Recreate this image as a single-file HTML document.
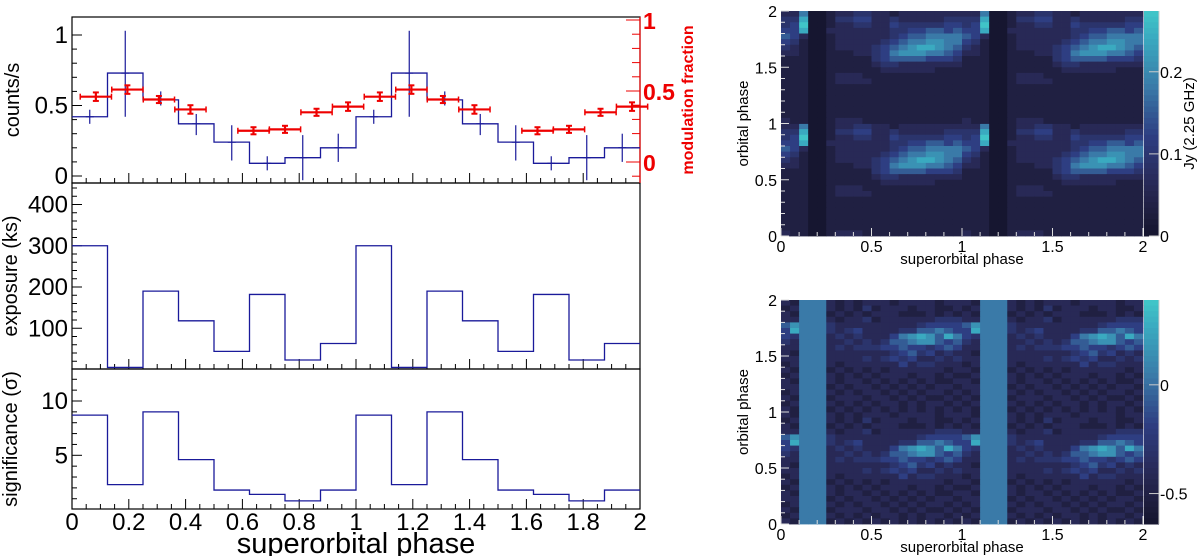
<!DOCTYPE html>
<html><head><meta charset="utf-8"><style>
body{margin:0;background:#fff}
svg{display:block;font-family:"Liberation Sans",Arial,sans-serif}
</style></head><body>
<svg id="s" width="1200" height="556" viewBox="0 0 1200 556" xmlns="http://www.w3.org/2000/svg"></svg>
<script>
// ---- data ----
const binEdges = [0,0.125,0.25,0.375,0.5,0.625,0.75,0.875,1,1.125,1.25,1.375,1.5,1.625,1.75,1.875,2];
const countsVals = [0.42,0.73,0.54,0.37,0.24,0.09,0.13,0.20,0.42,0.73,0.54,0.37,0.24,0.09,0.13,0.20];
const countsErrLo = [0.37,0.42,0.50,0.29,0.11,0.04,-0.03,0.10,0.37,0.42,0.50,0.29,0.11,0.04,-0.03,0.10];
const countsErrHi = [0.47,1.03,0.60,0.44,0.36,0.14,0.29,0.30,0.47,1.03,0.60,0.44,0.36,0.14,0.29,0.30];
const modPhase = [0.084,0.195,0.306,0.417,0.639,0.75,0.861,0.972,1.084,1.195,1.306,1.417,1.639,1.75,1.861,1.972];
const modVals = [0.46,0.51,0.44,0.37,0.22,0.23,0.35,0.39,0.46,0.51,0.44,0.37,0.22,0.23,0.35,0.39];
const modErr = [0.03,0.03,0.025,0.03,0.025,0.025,0.025,0.03,0.03,0.03,0.025,0.03,0.025,0.025,0.025,0.03];
const modHalfW = 0.055;
const exposureVals = [300,5,190,118,44,182,23,63,300,5,190,118,44,182,23,63];
const signifVals = [8.7,2.3,9.0,4.6,1.8,1.4,0.8,1.8,8.7,2.3,9.0,4.6,1.8,1.4,0.8,1.8];
const xTickLabels = ["0","0.2","0.4","0.6","0.8","1","1.2","1.4","1.6","1.8","2"];
const radioRows = ["22600122332212222222","33800133442232222233","34900122332243333344","44800222222233445545","54200122222234556666","43100122222345667766","32100122223456788765","22100111223467776654","11100111113455554443","11100111112332222222","11100111111222222111","11100122211111111111","11100122221111111111","11100111111111111111","11100111111111111111","11100111111111111111","11100111111111111111","11100111111111111111","11100111111111111111","21100122211111111111"];
const residRows = ["21666212122212222122","12666212131222122112","21666121212221112121","22666212231222222333","57666322222222234444","48666323422223355654","43666232322246787586","32666223232355677545","22666232333445443454","21666222222234534232","22666222232343422323","12666212222224233222","21666121212122222212","12666212121222122121","21666212212121212112","22666121221212121221","12666212122121212212","21666122212212121121","12666212121221212212","21666121212121212121"];
const cbTopTicks = [0,0.1,0.2];
const cbBotTicks = [-0.5,0];

const NS="http://www.w3.org/2000/svg";
const svg=document.getElementById('s');
function mk(tag,attrs,parent){const e=document.createElementNS(NS,tag);for(const k in attrs)e.setAttribute(k,attrs[k]);(parent||svg).appendChild(e);return e;}
function txt(str,attrs,parent){const e=mk('text',attrs,parent);e.textContent=str;return e;}

const X=p=>72+p*284;
const Yc=v=>176-v*141;
const Yr=v=>162-v*142;
const Ye=v=>369.5-v*0.4125;
const Ys=v=>509.6-v*10.86;
const L=72,R=640,T1=17,B1=183,B2=369,B3=509;

function stepPath(vals,Y){let d=`M${X(binEdges[0])},${Y(vals[0])}`;for(let i=0;i<vals.length;i++){d+=` L${X(binEdges[i+1])},${Y(vals[i])}`;if(i+1<vals.length)d+=` L${X(binEdges[i+1])},${Y(vals[i+1])}`;}return d;}

[[T1,B1,'counts-panel'],[B1,B2,'exposure-panel'],[B2,B3,'significance-panel']].forEach(([t,b,n])=>{
  const r=mk('rect',{x:L,y:t,width:R-L,height:b-t,fill:'none',stroke:'#000','stroke-width':1.2});
  
});
[B1,B2,B3].forEach(b=>{for(let i=0;i<=40;i++){const p=i*0.05;const maj=i%4===0;mk('line',{x1:X(p),x2:X(p),y1:b,y2:b-(maj?10:5),stroke:'#000','stroke-width':1});}});
function yTicks(Y,minV,maxV,step,majEvery,top,bot){for(let k=0;;k++){const v=minV+k*step;if(v>maxV+1e-9)break;const y=Y(v);if(y<top-0.5||y>bot+0.5)continue;const maj=(Math.round(v/step)%majEvery)===0;mk('line',{x1:L,x2:L+(maj?10:5),y1:y,y2:y,stroke:'#000','stroke-width':1});}}
yTicks(Yc,0,1.05,0.1,5,T1,B1);
yTicks(Ye,20,440,20,5,B1,B2);
yTicks(Ys,1,12.9,1,5,B2,B3);
[[Yc,["0","0.5","1"],[0,0.5,1]],[Ye,["100","200","300","400"],[100,200,300,400]],[Ys,["5","10"],[5,10]]].forEach(([Y,labs,vals])=>{
  labs.forEach((l,i)=>{const t=txt(l,{x:L-4,y:Y(vals[i])+8,'font-size':24,'text-anchor':'end',fill:'#000'});});
});
xTickLabels.forEach((l,i)=>{const t=txt(l,{x:X(i*0.2),y:530,'font-size':24,'text-anchor':'middle'});});
let t=txt('superorbital phase',{x:356,y:553,'font-size':29,'text-anchor':'middle'});
t=txt('counts/s',{x:0,y:0,'font-size':20,'text-anchor':'middle',transform:`translate(19,${(T1+B1)/2}) rotate(-90)`});
t=txt('exposure (ks)',{x:0,y:0,'font-size':20,'text-anchor':'middle',transform:`translate(17,${(B1+B2)/2}) rotate(-90)`});
t=txt('significance (σ)',{x:0,y:0,'font-size':20,'text-anchor':'middle',transform:`translate(17,${(B2+B3)/2}) rotate(-90)`});

mk('line',{x1:R,x2:R,y1:T1,y2:B1,stroke:'#e00','stroke-width':1.2});
for(let k=-1;k<=10;k++){const v=k*0.1;const y=Yr(v);if(y<T1||y>B1)continue;const maj=k%5===0;mk('line',{x1:R,x2:R-(maj?14:8),y1:y,y2:y,stroke:'#e00','stroke-width':1});}
[[0,"0"],[0.5,"0.5"],[1,"1"]].forEach(([v,l])=>{const t=txt(l,{x:R+3,y:Yr(v)+9,'font-size':23,'font-weight':'bold',fill:'#e00'});});
t=txt('modulation fraction',{x:0,y:0,'font-size':16,'font-weight':'bold',fill:'#e00','text-anchor':'middle',transform:`translate(693,${(T1+B1)/2}) rotate(-90)`});

const blue='#1a1a9a';
let p=mk('path',{d:stepPath(countsVals,Yc),fill:'none',stroke:blue,'stroke-width':1.3});
countsVals.forEach((v,i)=>{const c=(binEdges[i]+binEdges[i+1])/2;const g=mk('g',{});
  mk('line',{x1:X(c),x2:X(c),y1:Math.max(Yc(countsErrHi[i]),T1),y2:Math.min(Yc(countsErrLo[i]),B1),stroke:blue,'stroke-width':1.2},g);
  mk('line',{x1:X(c)-4,x2:X(c)+4,y1:Yc(v),y2:Yc(v),stroke:blue,'stroke-width':1.2},g);});
modVals.forEach((v,i)=>{const g=mk('g',{});
  const x=X(modPhase[i]),y=Yr(v);
  mk('line',{x1:X(modPhase[i]-modHalfW),x2:X(modPhase[i]+modHalfW),y1:y,y2:y,stroke:'#e00','stroke-width':2.2},g);
  mk('line',{x1:x,x2:x,y1:Yr(v+modErr[i]),y2:Yr(v-modErr[i]),stroke:'#e00','stroke-width':2.2},g);
  [v+modErr[i],v-modErr[i]].forEach(e=>mk('line',{x1:x-3,x2:x+3,y1:Yr(e),y2:Yr(e),stroke:'#e00','stroke-width':2},g));
  mk('line',{x1:X(modPhase[i]-modHalfW),x2:X(modPhase[i]-modHalfW),y1:y-3,y2:y+3,stroke:'#e00','stroke-width':1.5},g);
  mk('line',{x1:X(modPhase[i]+modHalfW),x2:X(modPhase[i]+modHalfW),y1:y-3,y2:y+3,stroke:'#e00','stroke-width':1.5},g);
});
p=mk('path',{d:stepPath(exposureVals,Ye),fill:'none',stroke:blue,'stroke-width':1.3});
p=mk('path',{d:stepPath(signifVals,Ys),fill:'none',stroke:blue,'stroke-width':1.3});

const stops=[[0,[22,22,48]],[1,[32,32,66]],[2,[40,41,86]],[4,[46,62,130]],[6,[58,122,168]],[8,[58,170,192]],[9,[64,196,200]]];
function col(d){for(let i=0;i<stops.length-1;i++){const[a,ca]=stops[i],[b,cb]=stops[i+1];if(d<=b){const f=(d-a)/(b-a);return `rgb(${ca.map((c,j)=>Math.round(c+(cb[j]-c)*f)).join(',')})`;}}return 'rgb(64,196,200)';}
function heatmap(rows,x0,x1,y0,y1,name,cbTicks,cbMin,cbMax,cbLabels,cbTitle){
  const g=mk('g',{});
  const HX=p=>x0+(x1-x0)*p/2, HY=q=>y1-(y1-y0)*q/2;
  const nr=rows.length,nc=rows[0].length;
  for(let py=0;py<2;py++)for(let px=0;px<2;px++)for(let r=0;r<nr;r++)for(let c=0;c<nc;c++){
    const xa=HX(px+c/nc),xb=HX(px+(c+1)/nc),yb=HY(py+(nr-1-r)/nr),ya=HY(py+(nr-r)/nr);
    const cell=mk('rect',{x:xa,y:ya,width:xb-xa+0.4,height:yb-ya+0.4,fill:col(+rows[r][c])},g);
    
    
  }
  for(let i=0;i<=20;i++){const v=i*0.1,maj=i%5===0;mk('line',{x1:HX(v),x2:HX(v),y1:y1,y2:y1-(maj?8:4),stroke:'#ddd','stroke-width':1},g);mk('line',{x1:x0,x2:x0+(maj?8:4),y1:HY(v),y2:HY(v),stroke:'#ddd','stroke-width':1},g);}
  ["0","0.5","1","1.5","2"].forEach((l,i)=>{const t=txt(l,{x:HX(i*0.5),y:y1+16,'font-size':16,'text-anchor':'middle'});
    const t2=txt(l,{x:x0-4,y:HY(i*0.5)+6,'font-size':16,'text-anchor':'end'});});
  let tt=txt('superorbital phase',{x:(x0+x1)/2,y:y1+28,'font-size':15,'text-anchor':'middle'});
  tt=txt('orbital phase',{x:0,y:0,'font-size':15,'text-anchor':'middle',transform:`translate(748,${(y0+y1)/2}) rotate(-90)`});
  const cx=x1+1,cw=15,n=40;
  for(let i=0;i<n;i++){const ya=y0+(y1-y0)*i/n;mk('rect',{x:cx,y:ya,width:cw,height:(y1-y0)/n+0.5,fill:col(9*(1-i/(n-1)))},g);}
  const CY=v=>y1-(y1-y0)*(v-cbMin)/(cbMax-cbMin);
  cbTicks.forEach((v,i)=>{mk('line',{x1:cx+cw,x2:cx+cw-10,y1:CY(v),y2:CY(v),stroke:'#ccc','stroke-width':1},g);
    const t=txt(cbLabels[i],{x:cx+cw+1,y:CY(v)+6,'font-size':16});});
  mk('line',{x1:cx+cw,x2:cx+cw,y1:y0,y2:y1,stroke:'#ccc','stroke-width':1},g);
  if(cbTitle){tt=txt(cbTitle,{x:0,y:0,'font-size':15,'text-anchor':'middle',transform:`translate(1194,${(y0+y1)/2}) rotate(-90)`});}
}
heatmap(radioRows,781,1143,11,236,'radio-heatmap',cbTopTicks,0,0.274,cbTopTicks.map(String),'Jy (2.25 GHz)');
heatmap(residRows,781,1143,300,524,'residual-heatmap',cbBotTicks,-0.64,0.39,["-0.5","0"],null);
</script>
</body></html>
